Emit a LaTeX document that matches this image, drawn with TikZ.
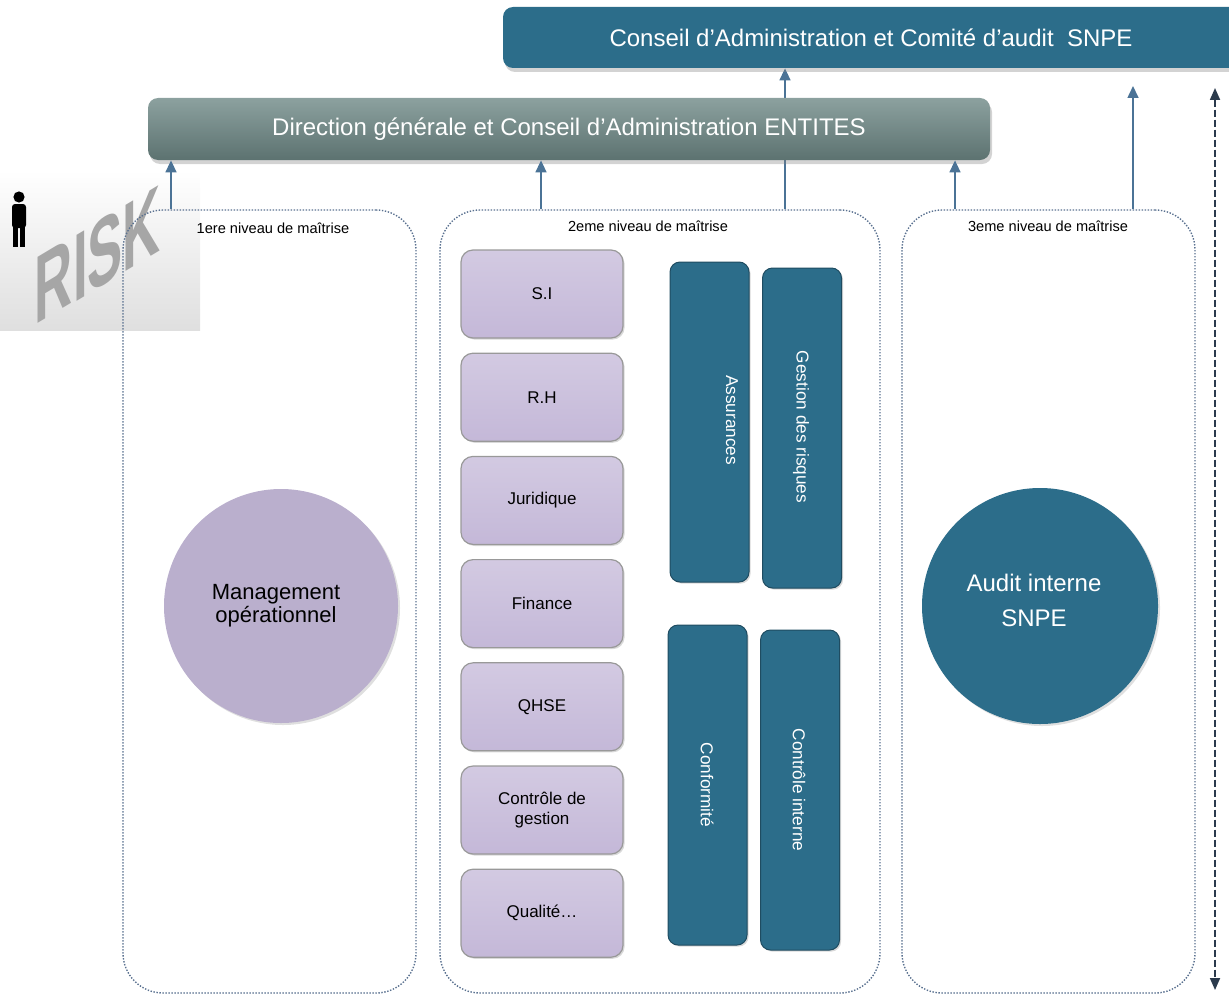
\documentclass[tikz,border=0pt]{standalone}
\usepackage{fontspec}
\setmainfont{Liberation Sans}
\usetikzlibrary{backgrounds,arrows.meta,shapes,positioning,shadows}
\definecolor{snpeblue}{HTML}{2C6D8A}
\definecolor{dirtop}{HTML}{8CA19F}
\definecolor{dirbot}{HTML}{5C7270}
\definecolor{lilac}{HTML}{C4B8D8}
\definecolor{dotline}{HTML}{5A7190}
\definecolor{linkcol}{HTML}{4B7396}
\definecolor{spancol}{HTML}{2B3A4C}
\tikzset{
	bar/.style={
		rectangle,
		rounded corners=5pt,
		text=white,
		font=\fontsize{12}{14}\selectfont,
		drop shadow={opacity=0.35, shadow xshift=1pt, shadow yshift=-2pt},
	},
	level/.style={
		rectangle,
		rounded corners=20pt,
		draw=dotline, line width=0.7pt,
		dash pattern=on 0.7pt off 0.8pt,
		minimum width=146.5pt, minimum height=391.5pt,
	},
	caption/.style={font=\fontsize{7.3}{8}\selectfont, inner sep=1pt},
	unit/.style={
		rectangle,
		rounded corners=6pt,
		draw=black!40, line width=0.6pt,
		top color=lilac!75!white, bottom color=lilac,
		minimum width=81pt, minimum height=44pt,
		align=center,
		font=\fontsize{8.5}{10}\selectfont,
		drop shadow={opacity=0.3, shadow xshift=0.8pt, shadow yshift=-0.8pt},
	},
	pillar/.style={
		rectangle,
		rounded corners=5pt,
		fill=snpeblue,
		draw=snpeblue!70!black, line width=0.5pt,
		minimum width=39.5pt, minimum height=160pt,
		drop shadow={opacity=0.3, shadow xshift=0.8pt, shadow yshift=-0.8pt},
	},
	vtext/.style={rotate=-90, text=white, font=\fontsize{8.6}{10}\selectfont},
	disc/.style={
		circle,
		minimum size=117pt,
		drop shadow={opacity=0.25, shadow xshift=1pt, shadow yshift=-1pt},
	},
	disctext/.style={align=center},
	link/.style={draw=linkcol, line width=0.8pt, -{Triangle[width=5.5pt,length=6pt]}},
	vspan/.style={draw=spancol, line width=0.9pt, dash pattern=on 3.5pt off 1.5pt,
		{Triangle[width=5pt,length=6pt]}-{Triangle[width=5pt,length=6pt]}},
}

\begin{document}
\begin{tikzpicture}[x=0.5pt, y=-0.5pt, node distance=7pt]
\useasboundingbox (0,0) rectangle (1229,995);

% risk picture
\shade[top color=white, bottom color=gray!25] (0,170) rectangle (200,330);
\node	(risk)	[yslant=0.6, xscale=0.55, text=gray!70, font=\fontsize{48}{48}\selectfont\bfseries]	at (98,255)	{RISK};
\fill (19,197) circle (2.8pt);
\fill[rounded corners=1.5pt] (12,204) rectangle (26,228);
\fill (13,226) rectangle (18,247);
\fill (20,226) rectangle (25,247);

% top bars
\node	(snpe)	[bar, fill=snpeblue, minimum width=368pt, minimum height=30.5pt]	at (871,37.5)	{Conseil d’Administration et Comité d’audit\ \ SNPE};
\node	(dir)	[bar, top color=dirtop, bottom color=dirbot, minimum width=421pt, minimum height=31pt]	at (569,129)	{Direction générale et Conseil d’Administration ENTITES};

% niveaux de maitrise
\node	(lvl1)	[level]	at (269.5,601.5)	{};
\node	(lvl2)	[level, minimum width=220pt]	at (660,601.5)	{};
\node	(lvl3)	[level]	at (1048.5,601.5)	{};
\node	(cap1)	[caption]	at (273,228)	{1ere niveau de maîtrise};
\node	(cap2)	[caption]	at (648,226)	{2eme niveau\ de maîtrise};
\node	(cap3)	[caption]	at (1048,226)	{3eme niveau\ de maîtrise};

% 1er niveau
\node	(mgmt)	[disc, fill=lilac!95!black]	at (281,606)	{};
\node	(mgmtt)	[disctext, font=\fontsize{11}{11.5}\selectfont]	at (276,606)	{Management\\opérationnel};

% 2eme niveau
\node	(si)	[unit]	at (542,294)	{S.I};
\node	(rh)	[unit]	[below=of si]	{R.H};
\node	(jur)	[unit]	[below=of rh]	{Juridique};
\node	(fin)	[unit]	[below=of jur]	{Finance};
\node	(qhse)	[unit]	[below=of fin]	{QHSE};
\node	(cdg)	[unit]	[below=of qhse]	{Contrôle de\\gestion};
\node	(qual)	[unit]	[below=of cdg]	{Qualité\dots};

\node	(assur)	[pillar]	at (709.5,422)	{};
\node	(gest)	[pillar]	at (802,428)	{};
\node	(conf)	[pillar]	at (707.5,785)	{};
\node	(ctrl)	[pillar]	at (800,790)	{};
\node	(assurt)	[vtext]	at (732,420)	{Assurances};
\node	(gestt)	[vtext]	at (801,427)	{Gestion des risques};
\node	(conft)	[vtext]	at (707,785)	{Conformité};
\node	(ctrlt)	[vtext]	at (799,790)	{Contrôle interne};

% 3eme niveau
\node	(audit)	[disc, fill=snpeblue, minimum size=118pt]	at (1040,606)	{};
\node	(auditt)	[disctext, text=white, font=\fontsize{12}{17.5}\selectfont]	at (1034,600)	{Audit interne\\SNPE};

% liens
\coordinate (tipA) at (1133,86);
\coordinate (spantop) at (1215,88);
\coordinate (spanbot) at (1215,990);
\begin{scope}[on background layer]
\draw[link] ([xshift=62.5pt]lvl2.north) -- ([xshift=62.5pt]lvl2.north |- snpe.south);
\end{scope}
\draw[link] ([xshift=-49.25pt]lvl1.north) -- ([xshift=-49.25pt]lvl1.north |- dir.south);
\draw[link] ([xshift=-59.5pt]lvl2.north) -- ([xshift=-59.5pt]lvl2.north |- dir.south);
\draw[link] ([xshift=-46.75pt]lvl3.north) -- ([xshift=-46.75pt]lvl3.north |- dir.south);
\draw[link] ([xshift=42.25pt]lvl3.north) -- (tipA);
\draw[vspan] (spantop) -- (spanbot);

\end{tikzpicture}
\end{document}
